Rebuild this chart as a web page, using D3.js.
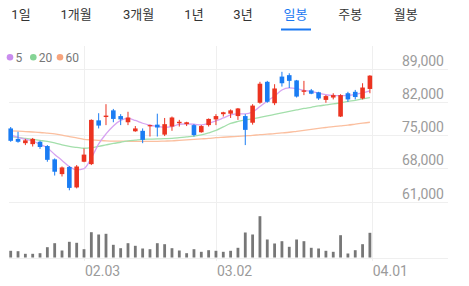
<!DOCTYPE html>
<html>
<head>
<meta charset="utf-8">
<script src="https://cdn.jsdelivr.net/npm/d3@7"></script>
<style>
body { margin: 0; background: #fff; }
svg { display: block; font-family: Roboto, "Noto Sans CJK KR", sans-serif; }
</style>
</head>
<body>
<svg id="chart" width="469" height="286"></svg>
<script>
var tabs = ["1일", "1개월", "3개월", "1년", "3년", "일봉", "주봉", "월봉"];
var activeTab = "일봉";

// daily candles, oldest first
var open = [76400, 74200, 73300, 73100, 73600, 72700, 69900, 66800, 68300, 64000,
            69400, 68900, 78100, 78800, 80200, 79000, 77700, 75800, 75900, 76900,
            77200, 75100, 76800, 77500, 77300, 77100, 75600, 77100, 78300, 79400,
            79500, 79000, 79000, 77600, 81800, 86200, 81700, 87300, 87600, 86500,
            84100, 84400, 84000, 82400, 82900, 78900, 83800, 84100, 82700, 84700];
var high = [76700, 75700, 74200, 74400, 73800, 72900, 70100, 68400, 68500, 68700,
            72200, 78300, 79600, 81500, 80500, 79400, 79900, 76900, 76400, 77200,
            79500, 78600, 78900, 78200, 77800, 77300, 77100, 78500, 79400, 79900,
            80400, 80700, 79400, 81500, 86200, 86400, 85700, 88300, 88000, 86600,
            86400, 84700, 84100, 83400, 83800, 83600, 84100, 84500, 85900, 87600];
var low = [73600, 73400, 72900, 72600, 72100, 69400, 66500, 66300, 63400, 63800,
           69300, 68700, 76400, 77100, 77700, 77100, 77100, 75700, 73300, 74700,
           74700, 74800, 75900, 76800, 76900, 74700, 75500, 76800, 77100, 78900,
           78600, 78200, 72900, 77200, 81600, 81800, 81300, 85200, 84900, 82900,
           83400, 83600, 82400, 81800, 82500, 78800, 82000, 82500, 82500, 83800];
var close = [73800, 73600, 73900, 74200, 72500, 69800, 67300, 68200, 63900, 68400,
             70900, 78200, 77000, 79100, 78400, 78300, 78700, 76400, 74000, 77100,
             76600, 77300, 78700, 77800, 77700, 75000, 76900, 78400, 79000, 79800,
             80200, 80600, 76100, 81200, 85800, 82000, 84800, 85900, 86400, 83100,
             84400, 83700, 82700, 83200, 83400, 83400, 82500, 83000, 85000, 87500];
var volume = [6700, 6300, 3700, 3700, 4300, 10300, 14300, 7000, 15700, 14700,
              8300, 25300, 23000, 23700, 12700, 9300, 14300, 11700, 9000, 8300,
              14300, 13300, 9300, 7000, 4300, 8300, 5700, 7300, 6700, 5700,
              6700, 9700, 25000, 23000, 41300, 18000, 14000, 16300, 10700, 18000,
              16300, 9700, 9000, 6700, 5700, 22300, 4000, 7300, 13300, 24700];

// moving averages as drawn (they include days before the window)
var ma5 = [75030, 74510, 74130, 73770, 73040, 72300, 70940, 69680, 68380, 67690,
           67960, 70200, 73150, 75250, 76930, 78080, 78500, 78080, 77490, 77070,
           76820, 76650, 76780, 77280, 77350, 77280, 77140, 77490, 77980, 78600,
           79240, 79450, 79450, 79870, 81020, 82180, 83230, 84490, 84910, 84760,
           84380, 84170, 83790, 83480, 83330, 83290, 83330, 83540, 83860, 84280];
var ma20 = [74680, 74510, 74300, 74090, 73880, 73670, 73360, 72940, 72620, 72410,
            72240, 72350, 72620, 72940, 73250, 73500, 73780, 73940, 74090, 74150,
            74200, 74240, 74300, 74450, 74620, 74790, 75040, 75460, 75980, 76720,
            77450, 77870, 78190, 78400, 78710, 79030, 79340, 79660, 79970, 80290,
            80600, 80850, 81130, 81340, 81550, 81800, 82070, 82320, 82600, 82910];
var ma60 = [75900, 75850, 75750, 75650, 75550, 75400, 75250, 75000, 74700, 74400,
            74100, 74000, 73900, 73800, 73750, 73750, 73700, 73700, 73700, 73700,
            73700, 73750, 73800, 73900, 74000, 74100, 74200, 74300, 74450, 74550,
            74650, 74750, 74850, 74950, 75100, 75200, 75300, 75450, 75600, 75800,
            76000, 76200, 76400, 76600, 76800, 76950, 77100, 77300, 77500, 77700];

var priceTicks = [61000, 68000, 75000, 82000, 89000];
var dateTicks = [10, 28, 49.25];
var dateLabels = ["02.03", "03.02", "04.01"];
var maNames = ["5", "20", "60"];

var svg = d3.select("#chart");
var red = "#ec3320", blue = "#1a7cf3";
var maColors = ["#d7a3f1", "#a3dfab", "#fbbf9f"];
var dotColors = ["#c98cee", "#85d495", "#f7a47d"];

var x = d3.scaleLinear().domain([0, close.length - 1]).range([10.7, 369.9]);
var y = d3.scaleLinear().domain([61000, 89000]).range([201.7, 68.5]);
var yv = d3.scaleLinear().domain([0, d3.max(volume)]).range([257.5, 216.2]);

// tabs
var tabX = [21, 76, 138.5, 194, 243, 295.5, 350.3, 405.8];
svg.append("g")
    .selectAll("text")
    .data(tabs)
    .enter().append("text")
    .attr("x", function (d, i) { return tabX[i]; })
    .attr("y", 19)
    .attr("text-anchor", "middle")
    .attr("font-size", 13)
    .attr("fill", function (d) { return d === activeTab ? "#1a78f2" : "#333"; })
    .text(function (d) { return d; });
svg.append("rect")
    .attr("x", 281).attr("y", 28.5)
    .attr("width", 30).attr("height", 2)
    .attr("fill", "#1a78f2");

// grid
svg.append("g")
    .selectAll("line")
    .data(priceTicks)
    .enter().append("line")
    .attr("x1", 9).attr("x2", 448)
    .attr("y1", function (d) { return Math.round(y(d)) + 0.5; })
    .attr("y2", function (d) { return Math.round(y(d)) + 0.5; })
    .attr("stroke", "#efefef");
svg.append("line")
    .attr("x1", 9).attr("x2", 448)
    .attr("y1", Math.round(yv(0)) + 0.5).attr("y2", Math.round(yv(0)) + 0.5)
    .attr("stroke", "#efefef");
svg.append("g")
    .selectAll("line")
    .data(dateTicks)
    .enter().append("line")
    .attr("x1", function (d) { return Math.round(x(d)) + 0.5; })
    .attr("x2", function (d) { return Math.round(x(d)) + 0.5; })
    .attr("y1", 46).attr("y2", 261)
    .attr("stroke", "#efefef");

// axis labels
svg.append("g")
    .selectAll("text")
    .data(priceTicks)
    .enter().append("text")
    .attr("x", 444)
    .attr("y", function (d) { return y(d) - 3; })
    .attr("text-anchor", "end")
    .attr("font-size", 14)
    .attr("fill", "#9b9b9b")
    .text(function (d) { return d3.format(",")(d); });
svg.append("g")
    .selectAll("text")
    .data(dateTicks)
    .enter().append("text")
    .attr("x", function (d) { return x(d) + 1; })
    .attr("y", 275.5)
    .attr("font-size", 14)
    .attr("fill", "#9b9b9b")
    .text(function (d, i) { return dateLabels[i]; });

// volume
svg.append("g")
    .selectAll("rect")
    .data(volume)
    .enter().append("rect")
    .attr("x", function (d, i) { return x(i) - 1.4; })
    .attr("y", function (d) { return yv(d); })
    .attr("width", 2.8)
    .attr("height", function (d) { return yv(0) - yv(d); })
    .attr("fill", "#777");

// moving averages
var mas = [ma5, ma20, ma60];
var line = d3.line()
    .x(function (d, i) { return x(i); })
    .y(function (d) { return y(d); })
    .curve(d3.curveMonotoneX);
svg.append("g")
    .selectAll("path")
    .data(mas.slice().reverse())
    .enter().append("path")
    .attr("d", line)
    .attr("fill", "none")
    .attr("stroke-width", 1.3)
    .attr("stroke", function (d, i) { return maColors[2 - i]; });

// candles
var candles = svg.append("g")
    .selectAll("g")
    .data(close)
    .enter().append("g")
    .attr("fill", function (d, i) { return d >= open[i] ? red : blue; })
    .attr("stroke", function (d, i) { return d >= open[i] ? red : blue; });
candles.append("line")
    .attr("x1", function (d, i) { return x(i); })
    .attr("x2", function (d, i) { return x(i); })
    .attr("y1", function (d, i) { return y(high[i]); })
    .attr("y2", function (d, i) { return y(low[i]); })
    .attr("stroke-width", 1);
candles.append("rect")
    .attr("stroke", "none")
    .attr("x", function (d, i) { return x(i) - 2.3; })
    .attr("width", 4.6)
    .attr("y", function (d, i) { return y(Math.max(d, open[i])); })
    .attr("height", function (d, i) { return Math.max(1.2, Math.abs(y(d) - y(open[i]))); });

// legend
var legend = svg.append("g")
    .selectAll("g")
    .data(maNames)
    .enter().append("g")
    .attr("transform", function (d, i) { return "translate(" + [10, 33.3, 60][i] + ",57.3)"; });
legend.append("circle")
    .attr("r", 3.3)
    .attr("fill", function (d, i) { return dotColors[i]; });
legend.append("text")
    .attr("x", 5.5)
    .attr("y", 4.3)
    .attr("font-size", 12)
    .attr("fill", "#777")
    .text(function (d) { return d; });
</script>
</body>
</html>
